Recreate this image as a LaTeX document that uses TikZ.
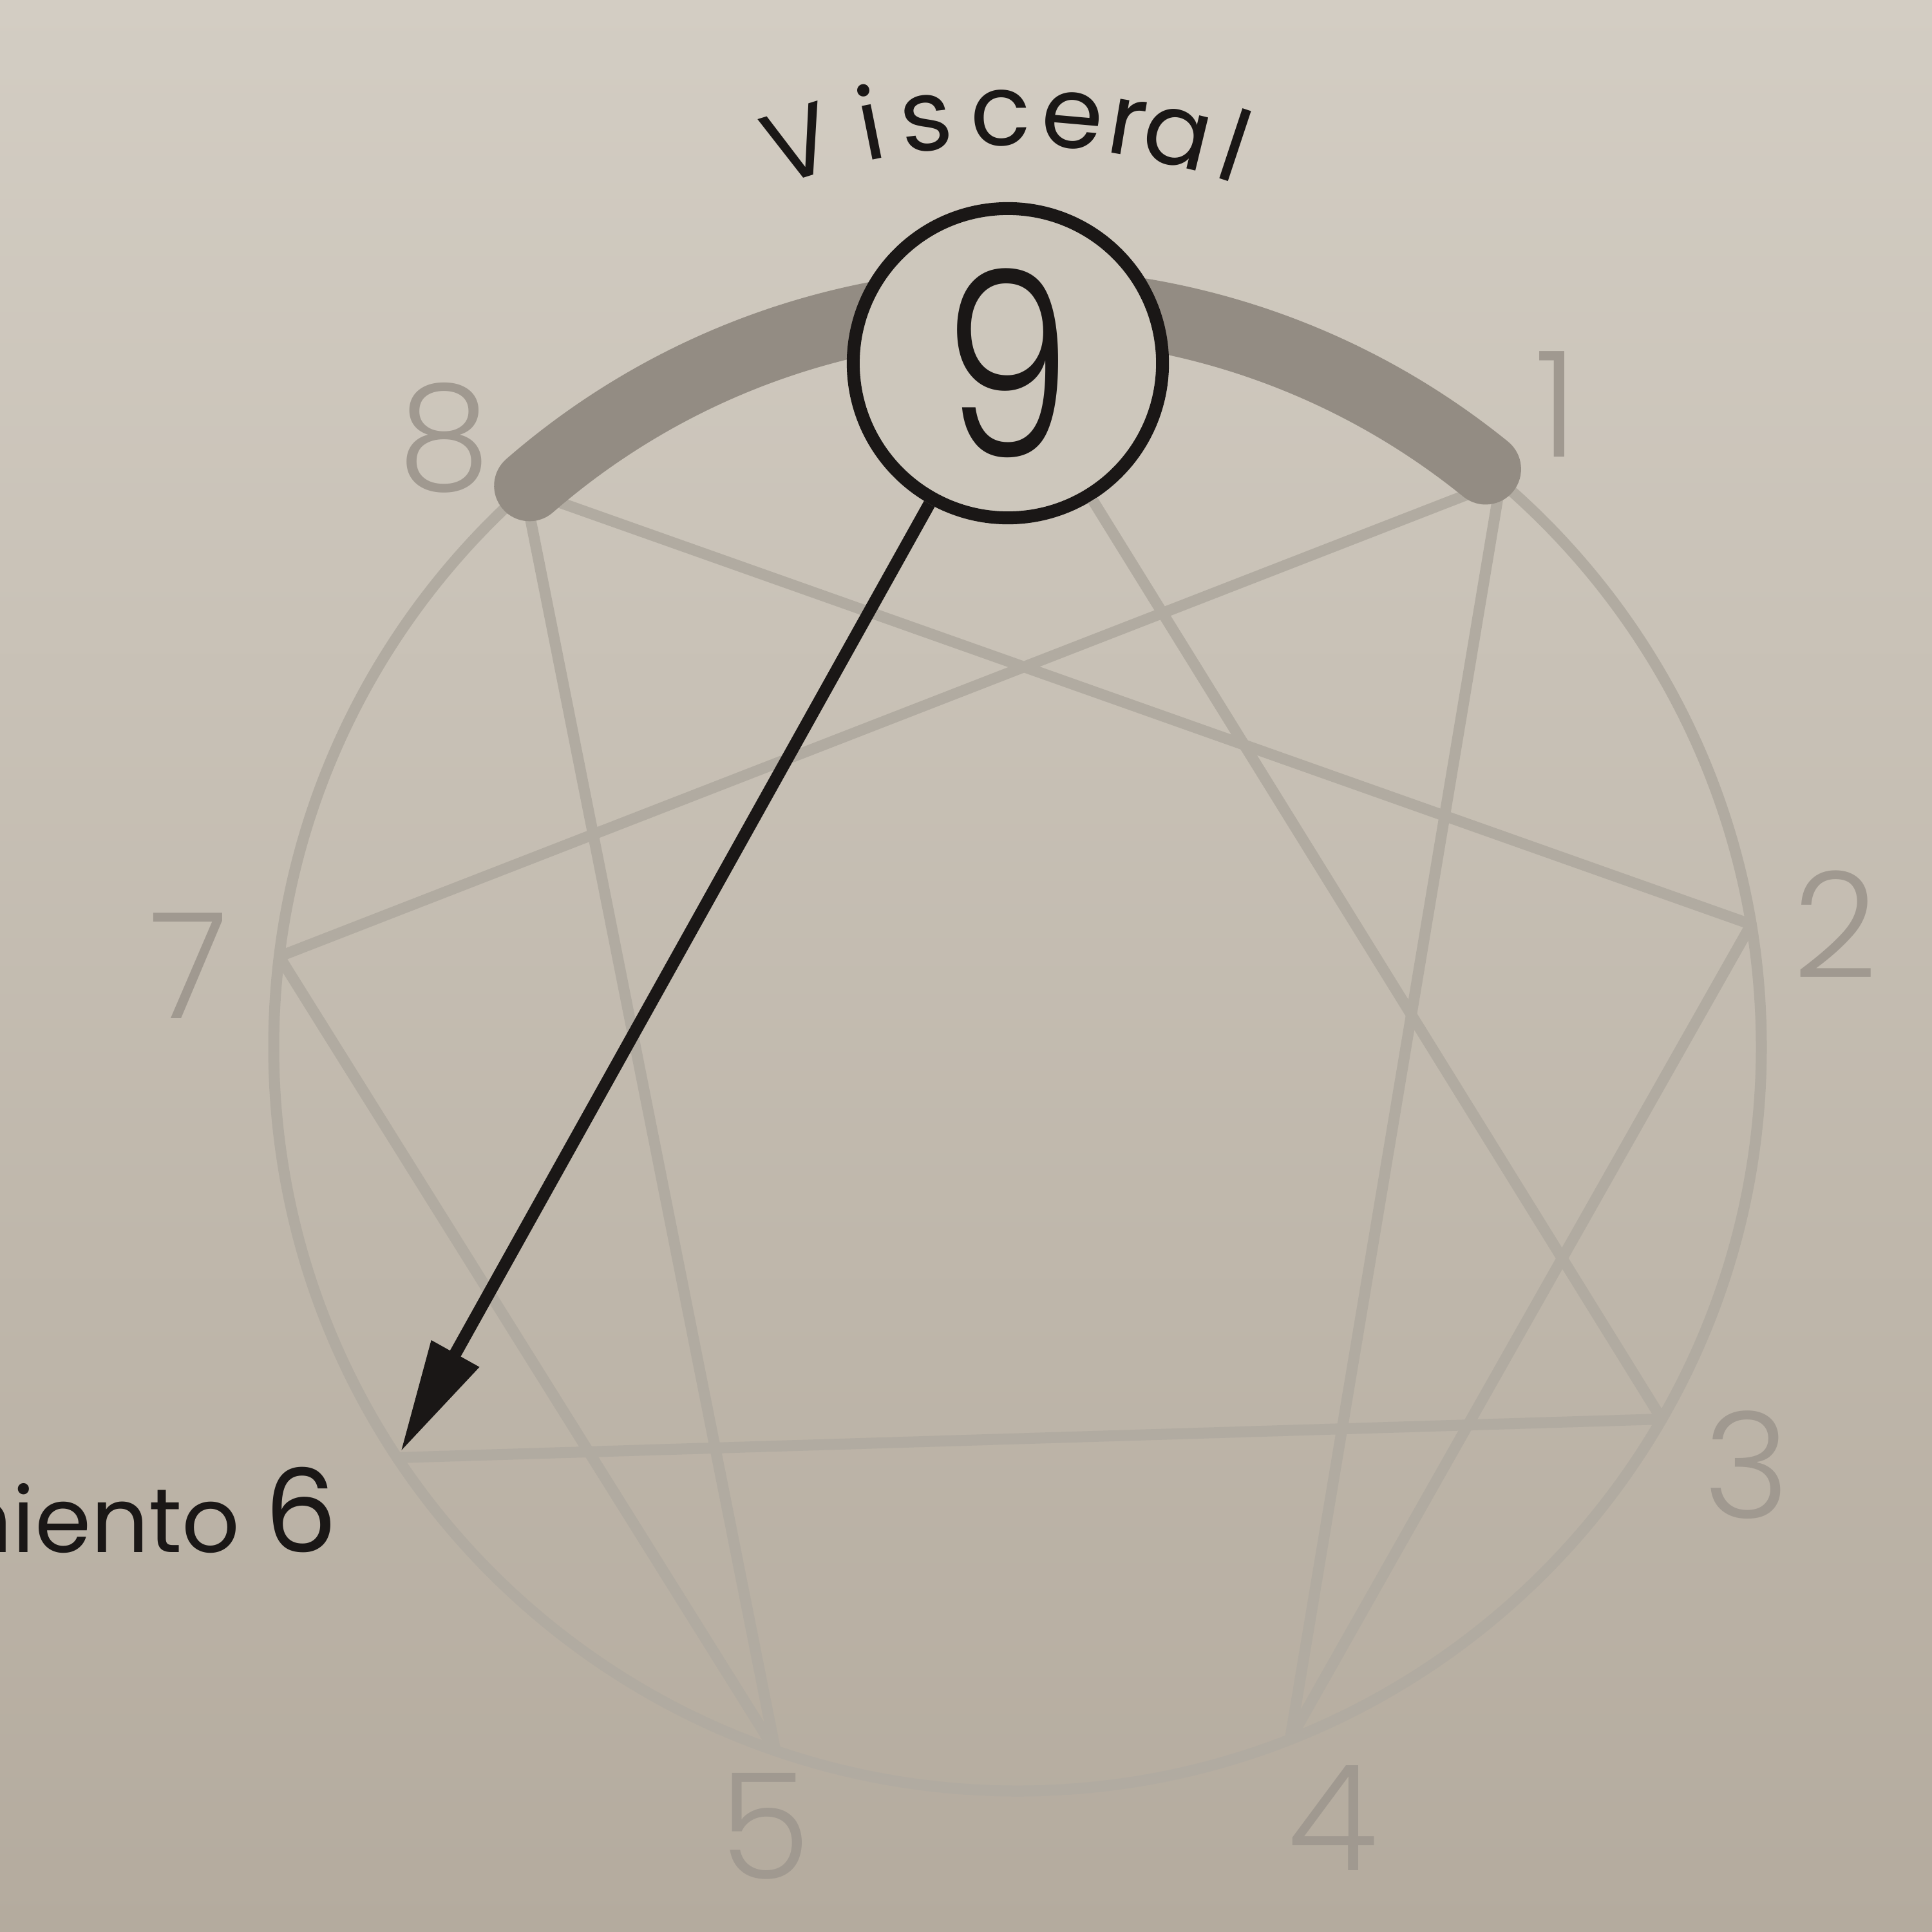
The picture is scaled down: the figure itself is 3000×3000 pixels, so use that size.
\documentclass[tikz,border=0pt]{standalone}
\usepackage{fontspec}
\setmainfont{Poppins}
\newfontfamily\lightfont{Poppins Light}
\usetikzlibrary{arrows.meta,calc}
\definecolor{paperTop}{RGB}{211,205,195}
\definecolor{paperBot}{RGB}{180,171,158}
\definecolor{paperNode}{RGB}{205,199,188}
\definecolor{lineGray}{RGB}{177,171,161}
\definecolor{bandGray}{RGB}{147,140,131}
\definecolor{digitGray}{RGB}{160,153,144}
\definecolor{ink}{RGB}{26,23,22}
\begin{document}
\begin{tikzpicture}[x=0.01cm, y=0.01cm,
  ennea/.style={draw=lineGray, line width=0.17cm, line cap=round, line join=round},
  band/.style={draw=bandGray, line width=1.1cm, line cap=round},
  digitlab/.style={text=digitGray, font={\lightfont\fontsize{65}{65}\selectfont}, inner sep=0pt},
  ninenode/.style={circle, draw=ink, line width=0.2cm, fill=paperNode, minimum size=4.8cm, inner sep=0pt, font={\lightfont\fontsize{114}{114}\selectfont}, text=ink},
  pointer/.style={draw=ink, line width=0.19cm, -{Triangle[length=1.75cm, width=0.8cm]}, shorten >=0.1cm},
  vislet/.style={anchor=base, inner sep=0pt, text=ink, font={\fontsize{44}{44}\selectfont}},
  sixlab/.style={anchor=base east, inner sep=0pt, text=ink}
]
\shade[top color=paperTop, bottom color=paperBot] (0,0) rectangle (3000,-3000);
\useasboundingbox (0,0) rectangle (3000,-3000);

\coordinate (C) at (1580,-1626);
\coordinate (T) at (1569,-1282);
\foreach \n/\a in {9/90,1/49.5,2/9.5,3/-30,4/-68.5,5/-109,6/-146.5,7/173,8/131.5}
  \coordinate (p\n) at ($(C)+(\a:1155)$);

% enneagram
\draw[ennea] (C) circle[radius=1155];
\draw[ennea] (p1) -- (p4) -- (p2) -- (p8) -- (p5) -- (p7) -- cycle;
\draw[ennea] (p3) -- (p6);

% visceral band
\path[band] ($(C)+(131:1155)$) arc[start angle=131, end angle=51, radius=1155];

% point labels
\node[digitlab] (l1) at (2417,-628) {1};
\node[digitlab] (l2) at (2850,-1435) {2};
\node[digitlab] (l3) at (2712,-2275) {3};
\node[digitlab] (l4) at (2070,-2823) {4};
\node[digitlab] (l5) at (1188,-2836) {5};
\node[digitlab] (l7) at (293,-1500) {7};
\node[digitlab] (l8) at (690,-680) {8};

% nine
\node[ninenode] (nine) at (1565,-564) {\scalebox{0.8}[1]{9}};
\draw[ennea, line cap=butt] (nine) -- (p3);
\draw[pointer] (nine) -- (p6);

\node[sixlab] (l6) at (525,-2410) {\fontsize{40}{40}\selectfont miento {\fontsize{51}{51}\selectfont 6}};

% Visceral
\foreach \ch/\t [count=\k] in {V/-17.3,i/-11.3,s/-6.8,c/-0.8,e/5.0,r/9.5,a/13.6,l/18.3}
  \node[vislet, rotate={-(\t)}] (vis\k) at ($(T)+({90-(\t)}:1056)$) {\ch};
\end{tikzpicture}
\end{document}
